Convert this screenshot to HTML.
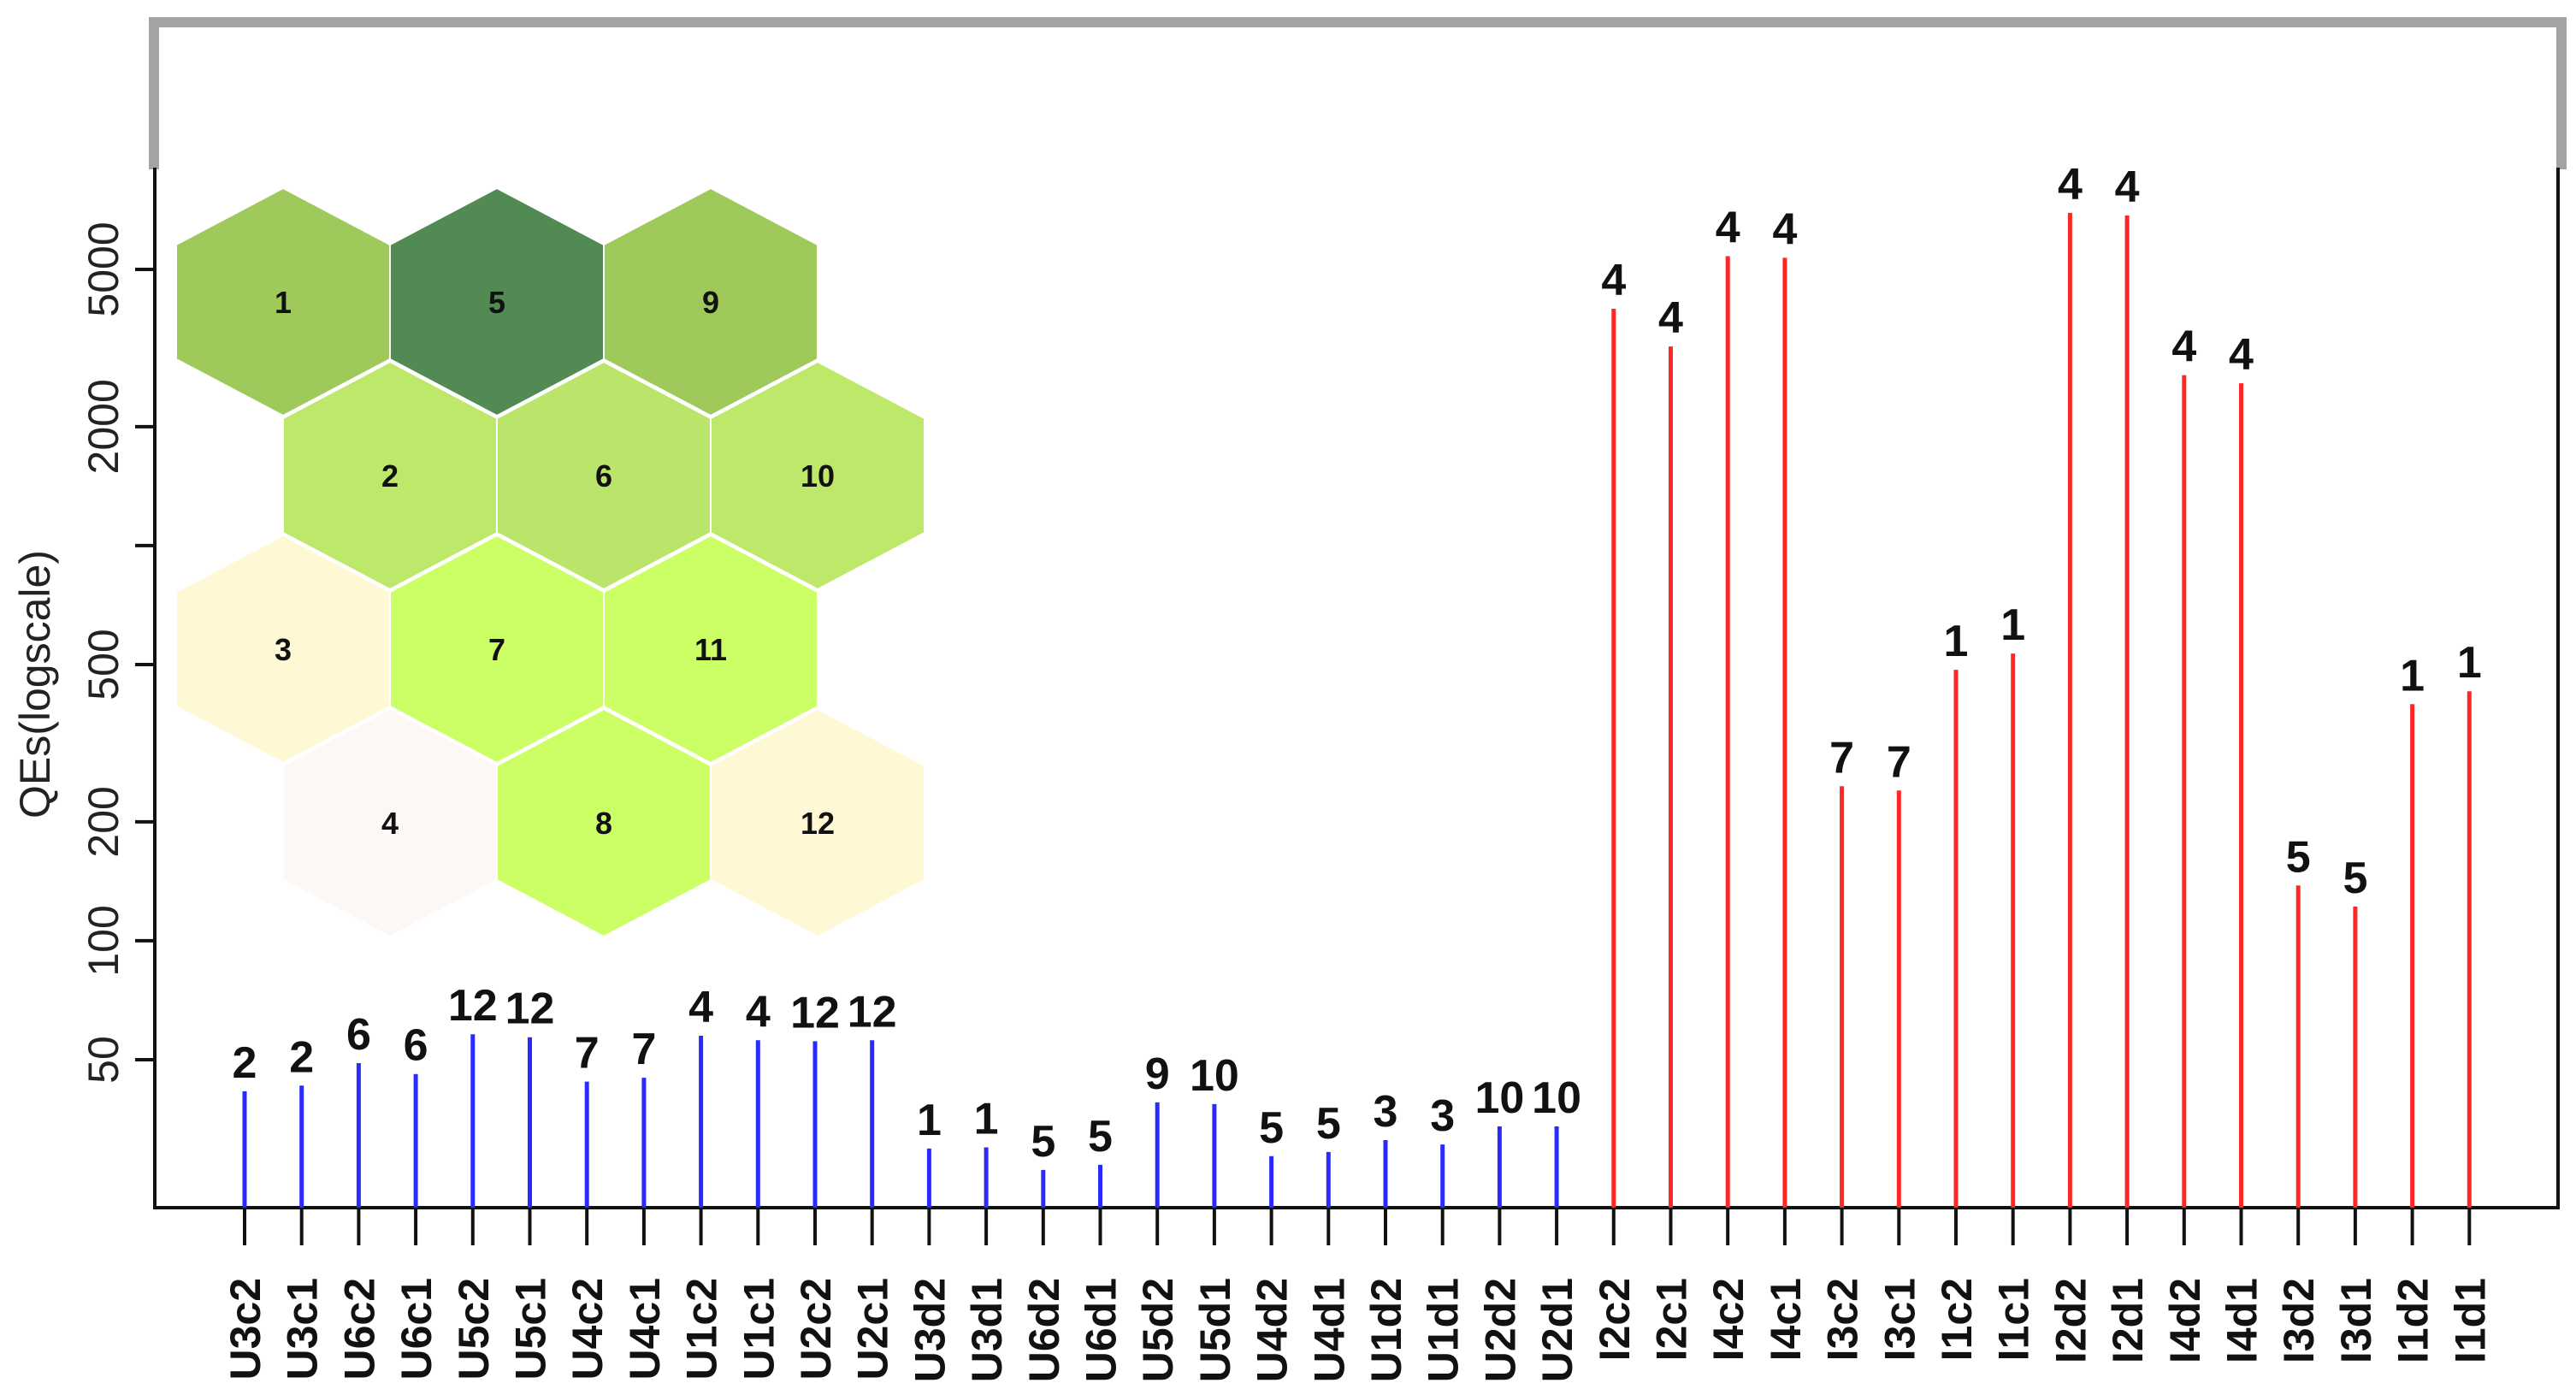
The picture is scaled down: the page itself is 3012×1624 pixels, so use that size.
<!DOCTYPE html>
<html><head><meta charset="utf-8"><style>
html,body{margin:0;padding:0;background:#fff;}
svg{display:block;}
text{font-family:"Liberation Sans",Arial,sans-serif;}
</style></head><body>
<svg id="chart" width="3012" height="1624" viewBox="0 0 3012 1624" xmlns="http://www.w3.org/2000/svg">
  <g fill="#a3a3a3">
    <rect x="174" y="20" width="2827" height="12"/>
    <rect x="174" y="20" width="12" height="178"/>
    <rect x="2989" y="20" width="12" height="178"/>
  </g>
  <g stroke="#111" stroke-width="4" fill="none">
    <line x1="181" y1="196" x2="181" y2="1414"/>
    <line x1="2991" y1="196" x2="2991" y2="1414"/>
    <line x1="179" y1="1412" x2="2993" y2="1412"/>
  </g>
  <text transform="translate(58,800) rotate(-90)" text-anchor="middle" font-size="50" fill="#222">QEs(logscale)</text>
  <g id="yaxis"></g>
  <g id="hexmap"></g>
  <g id="stems"></g>
  <g id="xaxis"></g>
</svg>
<script>
const categories = ["U3c2","U3c1","U6c2","U6c1","U5c2","U5c1","U4c2","U4c1","U1c2","U1c1","U2c2","U2c1",
"U3d2","U3d1","U6d2","U6d1","U5d2","U5d1","U4d2","U4d1","U1d2","U1d1","U2d2","U2d1",
"I2c2","I2c1","I4c2","I4c1","I3c2","I3c1","I1c2","I1c1","I2d2","I2d1","I4d2","I4d1","I3d2","I3d1","I1d2","I1d1"];
const qeValues = [41.6,43,49,46,58,57,44,45,57.5,56,55.7,56,
29.8,30,26.3,27.1,39,38.6,28.5,29.2,31.3,30.5,33.9,33.9,
3975,3190,5400,5350,246,240,485,533,6950,6850,2700,2575,138,122,397,428];
const nodeLabels = ["2","2","6","6","12","12","7","7","4","4","12","12",
"1","1","5","5","9","10","5","5","3","3","10","10",
"4","4","4","4","7","7","1","1","4","4","4","4","5","5","1","1"];
const yTicks = [50,100,200,500,1000,2000,5000];
const yTickLabels = ["50","100","200","500","","2000","5000"];
const hexIds = ["1","5","9","2","6","10","3","7","11","4","8","12"];
const hexCols = [0,1,2,0,1,2,0,1,2,0,1,2];
const hexRows = [0,0,0,1,1,1,2,2,2,3,3,3];
const hexColors = ["#9fc95a","#518a53","#9fc95a","#bde86a","#bae56a","#bde86a","#fff8d4","#ccff66","#ccff66","#fdf7f5","#ccff66","#fff8d4"];

const NS="http://www.w3.org/2000/svg";
function el(tag,attrs,parent){const e=document.createElementNS(NS,tag);for(const k in attrs)e.setAttribute(k,attrs[k]);parent.appendChild(e);return e;}
const y = v => 315 + 462*Math.log10(5000/v);
const x = i => 286 + 66.7*i;
const baseY = 1412;

const yaxis=document.getElementById('yaxis');
yTicks.forEach((t,i)=>{
  const ln=el('line',{x1:158,x2:181,y1:y(t),y2:y(t),stroke:'#111','stroke-width':4},yaxis);
  
  
  if(yTickLabels[i]){
    const tx=el('text',{transform:`translate(138,${y(t)}) rotate(-90)`,'text-anchor':'middle','font-size':50,fill:'#222'},yaxis);
    tx.textContent=yTickLabels[i];
    
    
  }
});

const hex=document.getElementById('hexmap');
hexIds.forEach((id,i)=>{
  const r=hexRows[i], c=hexCols[i];
  const cx=331+250*c+(r%2?125:0), cy=353+203*r;
  const pts=[[cx,cy-133],[cx+125,cy-67],[cx+125,cy+67],[cx,cy+133],[cx-125,cy+67],[cx-125,cy-67]].map(p=>p.join(',')).join(' ');
  const p=el('polygon',{points:pts,fill:hexColors[i],stroke:'#fff','stroke-width':2},hex);
  
  
  const t=el('text',{x:cx,y:cy+13,'text-anchor':'middle','font-size':36,'font-weight':'bold',fill:'#111'},hex);
  t.textContent=id;
  
  
});

const stems=document.getElementById('stems');
qeValues.forEach((v,i)=>{
  const col=categories[i][0]==='U'?'#2a2aff':'#ff2626';
  const l=el('line',{x1:x(i),x2:x(i),y1:baseY,y2:y(v),stroke:col,'stroke-width':5},stems);
  
  
  const t=el('text',{x:x(i),y:y(v)-16,'text-anchor':'middle','font-size':52,'font-weight':'bold',fill:'#111'},stems);
  t.textContent=nodeLabels[i];
  
  
});

const xaxis=document.getElementById('xaxis');
categories.forEach((c,i)=>{
  const tk=el('line',{x1:x(i),x2:x(i),y1:baseY,y2:1456,stroke:'#111','stroke-width':4},xaxis);
  
  
  const t=el('text',{transform:`translate(${x(i)+18},1494) rotate(-90)`,'text-anchor':'end','font-size':50,'font-weight':'bold',fill:'#111'},xaxis);
  t.textContent=c;
  
  
});
</script>
</body></html>
